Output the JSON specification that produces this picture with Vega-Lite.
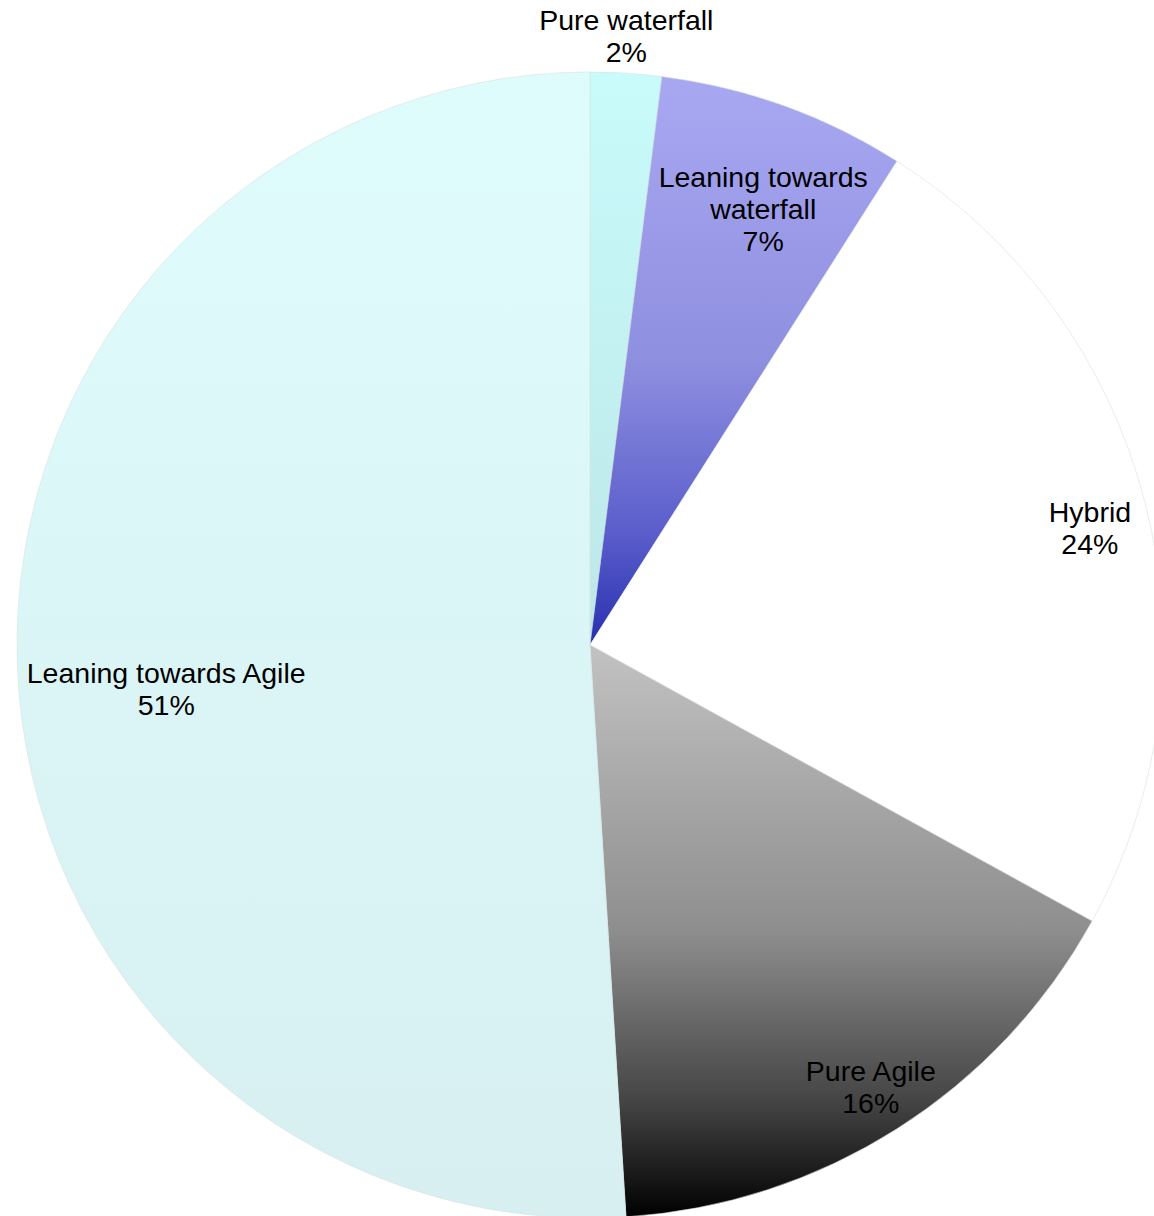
{
  "$schema": "https://vega.github.io/schema/vega-lite/v6.json",
  "width": 1128,
  "height": 1142,
  "autosize": "none",
  "padding": {"left": 26, "top": 74, "right": 0, "bottom": 0},
  "background": "white",
  "config": {"view": {"stroke": null}},
  "data": {
    "values": [
      {"idx": 1, "cat": "Pure waterfall", "value": 2, "label": "Pure waterfall\n2%"},
      {"idx": 2, "cat": "Leaning towards waterfall", "value": 7, "label": "Leaning towards\nwaterfall\n7%"},
      {"idx": 3, "cat": "Hybrid", "value": 24, "label": "Hybrid\n24%"},
      {"idx": 4, "cat": "Pure Agile", "value": 16, "label": "Pure Agile\n16%"},
      {"idx": 5, "cat": "Leaning towards Agile", "value": 51, "label": "Leaning towards Agile\n51%"}
    ]
  },
  "encoding": {
    "theta": {"field": "value", "type": "quantitative", "stack": true},
    "order": {"field": "idx", "type": "quantitative"}
  },
  "layer": [
    {
      "mark": {"type": "arc", "outerRadius": 573, "stroke": "#d5e3e3", "strokeWidth": 0.6},
      "encoding": {
        "color": {
          "condition": [
            {"test": "datum.cat === 'Pure waterfall'", "value": {"gradient": "linear", "x1": 0, "y1": 0, "x2": 0, "y2": 1, "stops": [{"offset": 0, "color": "#c9fbfb"}, {"offset": 1, "color": "#bde6e8"}]}},
            {"test": "datum.cat === 'Leaning towards waterfall'", "value": {"gradient": "linear", "x1": 0, "y1": 0, "x2": 0, "y2": 1, "stops": [{"offset": 0, "color": "#a8a8f2"}, {"offset": 0.5, "color": "#8f8fe0"}, {"offset": 0.8, "color": "#5b5ecb"}, {"offset": 1, "color": "#272fae"}]}},
            {"test": "datum.cat === 'Pure Agile'", "value": {"gradient": "linear", "x1": 0, "y1": 0, "x2": 0, "y2": 1, "stops": [{"offset": 0, "color": "#c2c2c2"}, {"offset": 0.5, "color": "#8e8e8e"}, {"offset": 0.8, "color": "#444444"}, {"offset": 1, "color": "#000000"}]}},
            {"test": "datum.cat === 'Leaning towards Agile'", "value": {"gradient": "linear", "x1": 0, "y1": 0, "x2": 0, "y2": 1, "stops": [{"offset": 0, "color": "#dffcfd"}, {"offset": 1, "color": "#d7eff1"}]}}
          ],
          "value": "#ffffff"
        }
      }
    },
    {
      "mark": {"type": "text", "radius": 610, "dx": -2, "dy": -15, "font": "Liberation Sans", "fontSize": 28.5, "lineHeight": 32, "lineBreak": "\n", "baseline": "middle", "align": "center", "color": "#000000"},
      "encoding": {"text": {"condition": {"test": "datum.cat === 'Pure waterfall'", "field": "label"}, "value": ""}}
    },
    {
      "mark": {"type": "text", "radius": 470, "dx": 14, "dy": -25, "font": "Liberation Sans", "fontSize": 28.5, "lineHeight": 32, "lineBreak": "\n", "baseline": "middle", "align": "center", "color": "#000000"},
      "encoding": {"text": {"condition": {"test": "datum.cat === 'Leaning towards waterfall'", "field": "label"}, "value": ""}}
    },
    {
      "mark": {"type": "text", "radius": 513, "dx": 3, "dy": -4, "font": "Liberation Sans", "fontSize": 28.5, "lineHeight": 32, "lineBreak": "\n", "baseline": "middle", "align": "center", "color": "#000000"},
      "encoding": {"text": {"condition": {"test": "datum.cat === 'Hybrid'", "field": "label"}, "value": ""}}
    },
    {
      "mark": {"type": "text", "radius": 524, "dx": 0, "dy": -15, "font": "Liberation Sans", "fontSize": 28.5, "lineHeight": 32, "lineBreak": "\n", "baseline": "middle", "align": "center", "color": "#000000"},
      "encoding": {"text": {"condition": {"test": "datum.cat === 'Pure Agile'", "field": "label"}, "value": ""}}
    },
    {
      "mark": {"type": "text", "radius": 426, "dx": 2, "dy": 16, "font": "Liberation Sans", "fontSize": 28.5, "lineHeight": 32, "lineBreak": "\n", "baseline": "middle", "align": "center", "color": "#000000"},
      "encoding": {"text": {"condition": {"test": "datum.cat === 'Leaning towards Agile'", "field": "label"}, "value": ""}}
    }
  ]
}
